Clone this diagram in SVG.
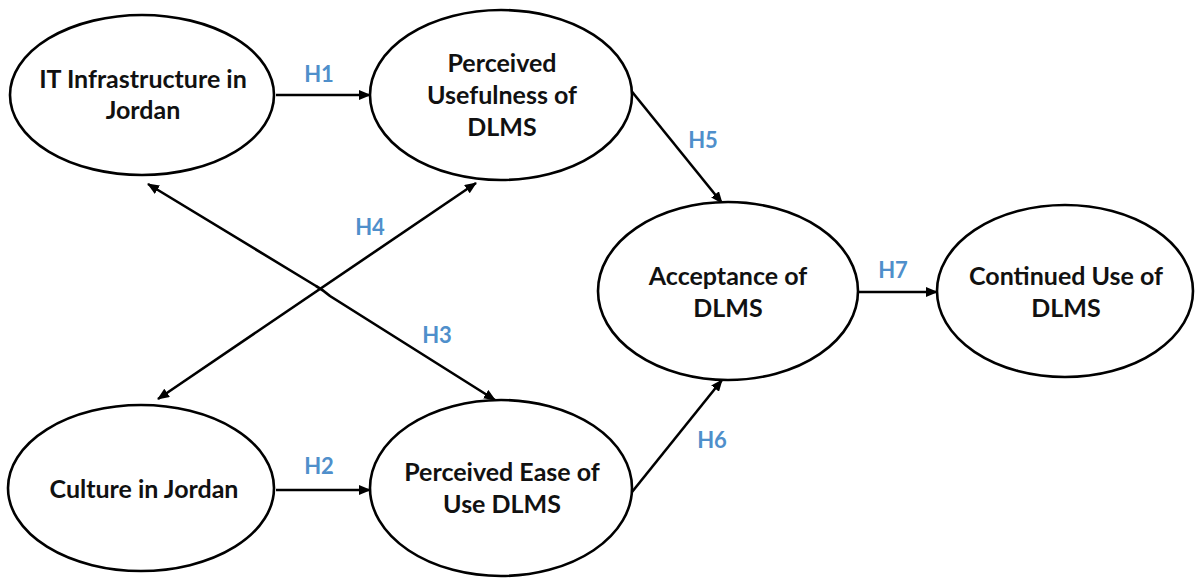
<svg xmlns="http://www.w3.org/2000/svg" width="1195" height="578" viewBox="0 0 1195 578">
  <style>
    .node ellipse { fill: #ffffff; stroke: #000000; stroke-width: 2.6; }
    .node text { font-family: Lato, "Open Sans", "Liberation Sans", sans-serif; font-weight: bold; font-size: 25px; fill: #111111; text-anchor: middle; }
    .edge { fill: none; stroke: #000000; stroke-width: 2.6; marker-end: url(#head); }
    .both { marker-start: url(#head); }
    .lbl { font-family: Lato, "Open Sans", "Liberation Sans", sans-serif; font-weight: bold; font-size: 22px; fill: #4f8fcb; text-anchor: middle; }
  </style>
  <defs>
    <marker id="head" viewBox="0 0 12 10" refX="11" refY="5" markerWidth="12" markerHeight="10" markerUnits="userSpaceOnUse" orient="auto-start-reverse">
      <path d="M0,0 L12,5 L0,10 Z" fill="#000000"/>
    </marker>
  </defs>
  <rect width="1195" height="578" fill="#ffffff"/>

  <g id="connectors">
    <line class="edge" x1="276" y1="95" x2="370" y2="95"/>
    <line class="edge" x1="276" y1="490" x2="370" y2="490"/>
    <line class="edge" x1="629" y1="88" x2="722" y2="203"/>
    <line class="edge" x1="632" y1="492" x2="722" y2="380"/>
    <line class="edge" x1="859" y1="292" x2="937" y2="292"/>
    <path class="edge both" d="M148,184 L316,286 Q323,290 330,296 L495,400"/>
    <line class="edge both" x1="476" y1="183" x2="158" y2="399"/>
    <text class="lbl" x="319" y="82">H1</text>
    <text class="lbl" x="319" y="474">H2</text>
    <text class="lbl" x="437" y="343">H3</text>
    <text class="lbl" x="370" y="235">H4</text>
    <text class="lbl" x="703" y="148">H5</text>
    <text class="lbl" x="712" y="448">H6</text>
    <text class="lbl" x="893" y="278">H7</text>
  </g>

  <g id="it-infrastructure" class="node">
    <ellipse cx="142" cy="95" rx="132" ry="80"/>
    <text x="143" y="88">IT Infrastructure in</text>
    <text x="143" y="119">Jordan</text>
  </g>
  <g id="perceived-usefulness" class="node">
    <ellipse cx="501" cy="95" rx="131" ry="85"/>
    <text x="502" y="72">Perceived</text>
    <text x="502" y="104">Usefulness of</text>
    <text x="502" y="136">DLMS</text>
  </g>
  <g id="acceptance" class="node">
    <ellipse cx="728" cy="291" rx="130" ry="89"/>
    <text x="728" y="285">Acceptance of</text>
    <text x="728" y="317">DLMS</text>
  </g>
  <g id="continued-use" class="node">
    <ellipse cx="1065" cy="291" rx="128" ry="86"/>
    <text x="1066" y="285">Continued Use of</text>
    <text x="1066" y="317">DLMS</text>
  </g>
  <g id="culture" class="node">
    <ellipse cx="141" cy="488" rx="133" ry="83"/>
    <text x="144" y="498">Culture in Jordan</text>
  </g>
  <g id="perceived-ease" class="node">
    <ellipse cx="501" cy="488" rx="131" ry="88"/>
    <text x="502" y="481">Perceived Ease of</text>
    <text x="502" y="513">Use DLMS</text>
  </g>
</svg>
